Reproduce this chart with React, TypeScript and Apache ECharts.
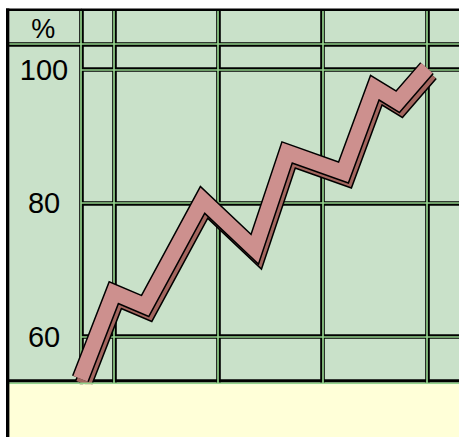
import React, { useEffect, useRef } from "react";
import * as echarts from "echarts";

// ---- data ----
const unitLabel = "%";
const yTicks = [60, 80, 100];
const xValues = [-0.32, 0, 0.3, 0.85, 1.35, 1.66, 2.2, 2.5, 2.72, 3.0];
const yValues = [53.7, 66.6, 64.6, 80.5, 73.1, 87.6, 84.6, 97.3, 95.2, 100.25];

// ---- layout / style ----
const COL = 104.4;
const X_LEFT = 9.4;
const TOP = 11;
const BOTTOM = 383;
const Y_TOP_VAL = 69.7; // y of 100
const Y_BOT_VAL = 336.7; // y of 60
const FONT = '"Liberation Sans", Arial, Helvetica, sans-serif';
const BLACK_W = 4.6;
const GREEN_W = 1.7;
const GREEN_LINE = "#93d28b";
const BG = "#c9e1c9";
const PINK = "#cd908e";
const SHADOW = "#a4665f";
const YELLOW = "#ffffd8";
const SH_DX = 3;
const SH_DY = 5;

const hidden = (gridIndex: number, extra: any = {}) => ({
  type: "value",
  gridIndex,
  show: false,
  ...extra,
});

export default function App() {
  const ref = useRef<HTMLDivElement>(null);
  useEffect(() => {
    if (!ref.current) return;
    const chart = echarts.init(ref.current, undefined, { renderer: "svg" });
    const data = xValues.map((x, i) => [x, yValues[i]]);
    const noOB = { outerBoundsMode: "none", containLabel: false };
    const gV = { left: X_LEFT, top: TOP, width: 5.4 * COL, height: BOTTOM - TOP, ...noOB };
    const gA = { left: 81, top: TOP, width: 20, height: BOTTOM - TOP, ...noOB };
    const gHd = { left: X_LEFT, top: TOP, width: 500, height: 44 - TOP, ...noOB };
    const gH = { left: 81, top: Y_TOP_VAL, width: 420, height: Y_BOT_VAL - Y_TOP_VAL, ...noOB };
    const gD = { left: X_LEFT, top: Y_TOP_VAL, width: 5.4 * COL, height: Y_BOT_VAL - Y_TOP_VAL, ...noOB };
    const gDs = { ...gD, left: X_LEFT + SH_DX, top: Y_TOP_VAL + SH_DY };

    const vSplit = (color: string, width: number, z: number, gridIndex: number) => ({
      type: "value",
      gridIndex,
      min: -1,
      max: 4.4,
      interval: 1,
      z,
      axisLine: { show: false },
      axisTick: { show: false },
      axisLabel: { show: false },
      splitLine: { show: true, showMinLine: false, showMaxLine: false, lineStyle: { color, width } },
    });
    const lineAxis = (color: string, width: number, z: number, gridIndex: number, position: string) => ({
      type: "value",
      gridIndex,
      position,
      z,
      axisLine: { show: true, onZero: false, lineStyle: { color, width } },
      axisTick: { show: false },
      axisLabel: { show: false },
      splitLine: { show: false },
    });
    const hAxis = (color: string, width: number, z: number, gridIndex: number, labels: boolean) => ({
      type: "value",
      gridIndex,
      min: yTicks[0],
      max: yTicks[yTicks.length - 1],
      interval: yTicks[1] - yTicks[0],
      z,
      axisLine: { show: false },
      axisTick: { show: false },
      axisLabel: {
        show: labels,
        margin: 37,
        align: "center",
        verticalAlign: "middle",
        fontSize: 29,
        fontFamily: FONT,
        color: "#000",
      },
      splitLine: { show: true, showMinLine: true, showMaxLine: true, lineStyle: { color, width } },
    });

    const lineSeries = (axisIdx: number, color: string, width: number, z: number) => ({
      type: "line",
      xAxisIndex: axisIdx,
      yAxisIndex: axisIdx,
      data,
      clip: false,
      symbol: "none",
      silent: true,
      z,
      emphasis: { disabled: true },
      lineStyle: { color, width, join: "miter", cap: "butt", miterLimit: 10 },
    });

    chart.setOption({
      animation: false,
      grid: [
        { ...gV, show: true, backgroundColor: BG, borderWidth: 0 },
        gV,
        gA,
        gA,
        gHd,
        gHd,
        gH,
        gH,
        gDs,
        gD,
      ],
      xAxis: [
        vSplit("#000", BLACK_W, 1, 0),
        vSplit(GREEN_LINE, GREEN_W, 2, 1),
        hidden(2),
        hidden(3),
        lineAxis("#000", BLACK_W, 1, 4, "bottom"),
        lineAxis(GREEN_LINE, GREEN_W, 2, 5, "bottom"),
        hidden(6),
        hidden(7),
        hidden(8, { min: -1, max: 4.4 }),
        hidden(9, { min: -1, max: 4.4 }),
      ],
      yAxis: [
        hidden(0),
        hidden(1),
        lineAxis("#000", BLACK_W, 1, 2, "left"),
        lineAxis(GREEN_LINE, GREEN_W, 2, 3, "left"),
        hidden(4),
        hidden(5),
        hAxis("#000", BLACK_W, 1, 6, true),
        hAxis(GREEN_LINE, GREEN_W, 2, 7, false),
        hidden(8, { min: yTicks[0], max: yTicks[yTicks.length - 1] }),
        hidden(9, { min: yTicks[0], max: yTicks[yTicks.length - 1] }),
      ],
      series: [
        lineSeries(8, "#000", 18, 3),
        lineSeries(8, SHADOW, 15, 4),
        lineSeries(9, "#000", 18, 5),
        lineSeries(9, PINK, 15, 6),
      ],
      graphic: {
        elements: [
          { type: "rect", z: 1, shape: { x: 9, y: 379.3, width: 460, height: 3.3 }, style: { fill: "#000" } },
          { type: "rect", z: 10, shape: { x: 9, y: 382.6, width: 460, height: 1.6 }, style: { fill: GREEN_LINE } },
          { type: "rect", z: 10, shape: { x: 9, y: 384.2, width: 460, height: 60 }, style: { fill: YELLOW } },
          { type: "rect", z: 20, shape: { x: 6, y: 8.4, width: 460, height: 2.6 }, style: { fill: "#000" } },
          { type: "rect", z: 20, shape: { x: 6, y: 8.4, width: 3.4, height: 440 }, style: { fill: "#000" } },
          {
            type: "text",
            z: 20,
            x: 43.3,
            y: 29,
            style: {
              text: unitLabel,
              fontSize: 27,
              fontFamily: FONT,
              fill: "#000",
              align: "center",
              verticalAlign: "middle",
            },
          },
        ],
      },
    });
    return () => chart.dispose();
  }, []);
  return (
    <div
      ref={ref}
      style={{ position: "fixed", left: 0, top: 0, width: 459, height: 437, background: "#fff" }}
    />
  );
}
